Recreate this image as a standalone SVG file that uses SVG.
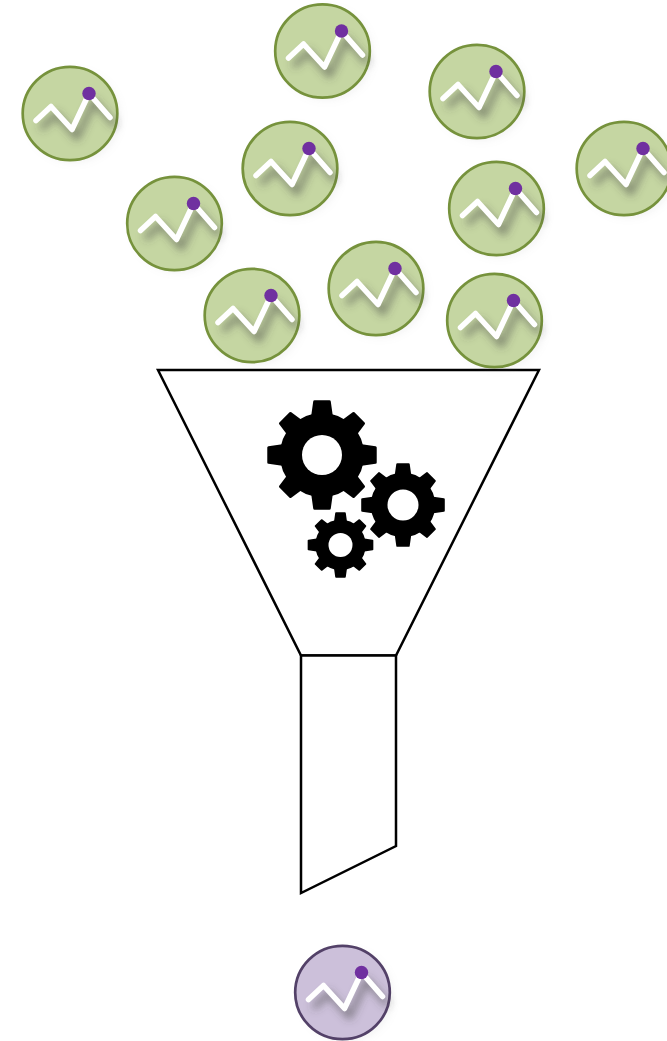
<svg xmlns="http://www.w3.org/2000/svg" width="667" height="1041" viewBox="0 0 667 1041">
<style>
.disc{stroke-width:2.7}
.green{fill:#c5d6a2;stroke:#76923c}
.purple{fill:#ccc0da;stroke:#534168}
.line{fill:none;stroke:#fff;stroke-width:5.5;stroke-linecap:round;stroke-linejoin:round}
.dot{fill:#7030a0}
.funnel{fill:#fff;stroke:#000;stroke-width:2.5;stroke-linejoin:miter}
.tooth{fill:#000;stroke:#000;stroke-width:0.05;stroke-linejoin:round}
.hole{fill:#fff}
</style>
<defs>
<filter id="soft" x="-30%" y="-40%" width="170%" height="190%">
<feGaussianBlur stdDeviation="4.5"/>
</filter>
<filter id="softdisc" x="-20%" y="-20%" width="140%" height="140%">
<feGaussianBlur stdDeviation="3"/>
</filter>
<g id="chart">
<polyline points="-34,7 -19,-7 2,16 19,-20 40,4" fill="none" stroke="#444" stroke-opacity="0.6" stroke-width="5.5" stroke-linejoin="round" transform="translate(5,8)" filter="url(#soft)"/>
<polyline class="line" points="-34,7 -19,-7 2,16 19,-20 40,4"/>
<circle class="dot" cx="19" cy="-20" r="6.7"/>
</g>
<g id="greenDisc">
<ellipse cx="4" cy="3" rx="47.5" ry="47" fill="#999" fill-opacity="0.1" filter="url(#softdisc)"/>
<ellipse class="disc green" rx="47.3" ry="46.7"/>
<use href="#chart"/>
</g>
<path id="tooth" class="tooth" d="M-0.17,-0.72 L-0.135,-0.97 L0.135,-0.97 L0.17,-0.72 Z"/>
<g id="gear">
<circle class="tooth" r="0.74"/>
<use href="#tooth"/>
<use href="#tooth" transform="rotate(45) scale(0.97)"/>
<use href="#tooth" transform="rotate(90)"/>
<use href="#tooth" transform="rotate(135) scale(0.97)"/>
<use href="#tooth" transform="rotate(180)"/>
<use href="#tooth" transform="rotate(225) scale(0.97)"/>
<use href="#tooth" transform="rotate(270)"/>
<use href="#tooth" transform="rotate(315) scale(0.97)"/>
</g>
</defs>
<rect width="667" height="1041" fill="#fff"/>
<g id="connectors"/>
<g id="funnel">
<polygon class="funnel" points="158,370 539,370 396,655.5 301,655.5"/>
<polygon class="funnel" points="301,655.5 396,655.5 396,846 301,893"/>
</g>
<g id="gear-large" transform="translate(322,455)">
<use href="#gear" transform="scale(55)"/>
<circle class="hole" r="20"/>
</g>
<g id="gear-medium" transform="translate(403,505)">
<use href="#gear" transform="scale(42)"/>
<circle class="hole" r="15.5"/>
</g>
<g id="gear-small" transform="translate(340.5,545)">
<use href="#gear" transform="scale(33)"/>
<circle class="hole" r="12"/>
</g>
<g id="input-1" transform="translate(70,113.5)"><use href="#greenDisc"/></g>
<g id="input-2" transform="translate(322.5,51)"><use href="#greenDisc"/></g>
<g id="input-3" transform="translate(477,91.5)"><use href="#greenDisc"/></g>
<g id="input-4" transform="translate(624,168.5)"><use href="#greenDisc"/></g>
<g id="input-5" transform="translate(290,168.5)"><use href="#greenDisc"/></g>
<g id="input-6" transform="translate(174.5,223.5)"><use href="#greenDisc"/></g>
<g id="input-7" transform="translate(496.5,208.5)"><use href="#greenDisc"/></g>
<g id="input-8" transform="translate(376,288.5)"><use href="#greenDisc"/></g>
<g id="input-9" transform="translate(494.5,320.5)"><use href="#greenDisc"/></g>
<g id="input-10" transform="translate(252,315.5)"><use href="#greenDisc"/></g>
<g id="output" transform="translate(342.5,992.5)">
<ellipse cx="4" cy="3" rx="47.5" ry="47" fill="#999" fill-opacity="0.1" filter="url(#softdisc)"/>
<ellipse class="disc purple" rx="47.3" ry="46.7"/>
<use href="#chart"/>
</g>
</svg>
